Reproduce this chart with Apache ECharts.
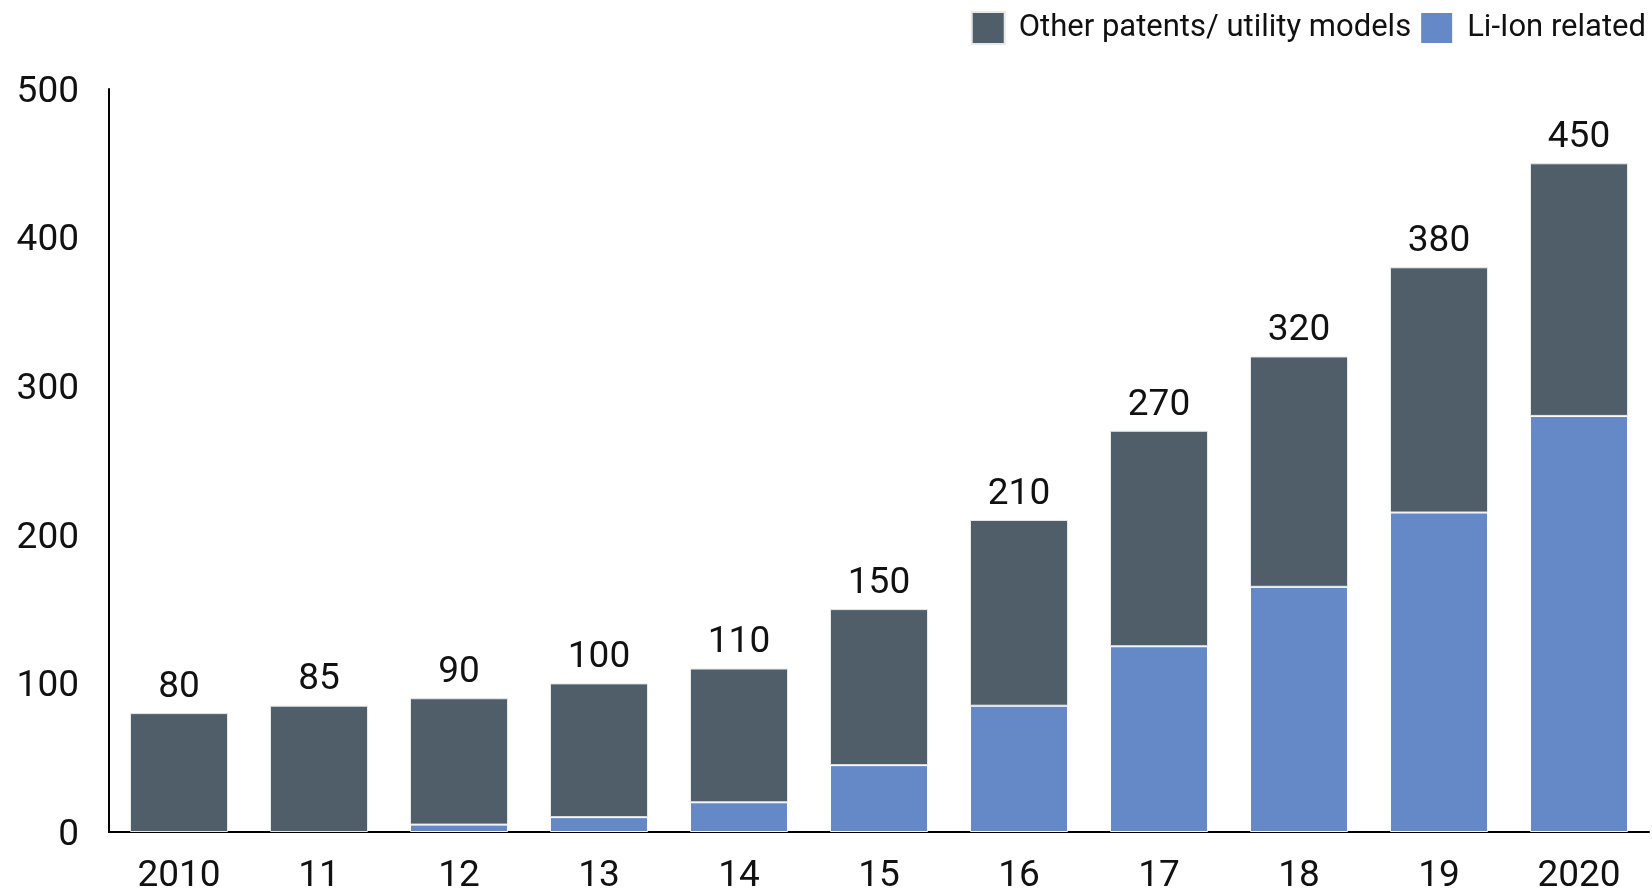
<!DOCTYPE html>
<html>
<head>
<meta charset="utf-8">
<script src="https://cdn.jsdelivr.net/npm/echarts@6/dist/echarts.min.js"></script>
<style>
  html, body { margin: 0; padding: 0; background: #ffffff; }
  #chart { width: 1652px; height: 892px; }
</style>
</head>
<body>
<div id="chart"></div>
<script>
// Year labels along the category axis
const years = ['2010', '11', '12', '13', '14', '15', '16', '17', '18', '19', '2020'];
// Total patents / utility models per year (labelled above each stack)
const totals = [80, 85, 90, 100, 110, 150, 210, 270, 320, 380, 450];
// Li-Ion related share of each year's total
const liIon = [0, 0, 5, 10, 20, 45, 85, 125, 165, 215, 280];
// Remaining (non Li-Ion) part of each stack
const other = totals.map((t, i) => t - liIon[i]);
// Value axis ticks
const yTicks = [0, 100, 200, 300, 400, 500];

const FONT = 'Roboto';
const DARK = '#4f5e69';
const BLUE = '#6589c7';

const chart = echarts.init(document.getElementById('chart'), null, { renderer: 'canvas' });

chart.setOption({
  animation: false,
  backgroundColor: '#ffffff',
  textStyle: { fontFamily: FONT, color: '#000' },
  legend: {
    top: 6,
    right: 1,
    itemWidth: 33,
    itemHeight: 32,
    itemGap: 8,
    icon: 'rect',
    textStyle: { fontFamily: FONT, fontSize: 31, color: '#111', padding: [0, 0, 0, 9] },
    data: ['Other patents/ utility models', 'Li-Ion related']
  },
  grid: { left: 109, right: 3, top: 89, bottom: 60, containLabel: false, outerBoundsMode: 'none' },
  xAxis: {
    type: 'category',
    data: years,
    axisLine: { show: true, lineStyle: { color: '#000', width: 2 } },
    axisTick: { show: false },
    axisLabel: { fontFamily: FONT, fontSize: 37, color: '#111', margin: 26 }
  },
  yAxis: {
    type: 'value',
    min: yTicks[0],
    max: yTicks[yTicks.length - 1],
    interval: 100,
    axisLine: { show: true, lineStyle: { color: '#000', width: 2 } },
    axisTick: { show: false },
    splitLine: { show: false },
    axisLabel: {
      margin: 30,
      formatter: '{v|{value}}',
      rich: {
        v: { fontFamily: FONT, fontSize: 37, color: '#111', padding: [7, 0, 0, 0] }
      }
    }
  },
  series: [
    {
      name: 'Li-Ion related',
      type: 'bar',
      stack: 'total',
      barWidth: '70%',
      // empty years draw no segment at all
      data: liIon.map(v => (v === 0 ? null : v)),
      itemStyle: { color: BLUE, borderColor: '#ffffff', borderWidth: 1 }
    },
    {
      name: 'Other patents/ utility models',
      type: 'bar',
      stack: 'total',
      barWidth: '70%',
      data: other,
      itemStyle: { color: DARK, borderColor: '#e6e8ea', borderWidth: 1 },
      label: {
        show: true,
        position: 'top',
        distance: 7,
        fontFamily: FONT,
        fontSize: 37,
        color: '#111',
        formatter: p => String(totals[p.dataIndex])
      }
    }
  ]
});
</script>
</body>
</html>
